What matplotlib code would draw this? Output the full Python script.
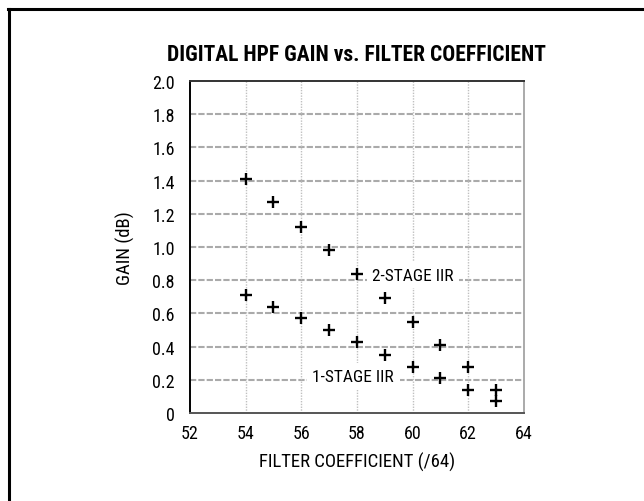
import matplotlib.pyplot as plt

coef = [54, 55, 56, 57, 58, 59, 60, 61, 62, 63]
gain_2stage = [1.41, 1.27, 1.12, 0.98, 0.84, 0.69, 0.55, 0.41, 0.28, 0.14]
gain_1stage = [0.71, 0.64, 0.57, 0.50, 0.43, 0.35, 0.28, 0.21, 0.14, 0.07]

xticks = [52, 54, 56, 58, 60, 62, 64]
yticks = [0, 0.2, 0.4, 0.6, 0.8, 1.0, 1.2, 1.4, 1.6, 1.8, 2.0]
ylabels = ["0", "0.2", "0.4", "0.6", "0.8", "1.0", "1.2", "1.4", "1.6", "1.8", "2.0"]

plt.rcParams['font.family'] = ['Roboto Condensed', 'Roboto', 'DejaVu Sans']

fig = plt.figure(figsize=(6.44, 5.02), dpi=100)
ax = fig.add_axes([0.295, 0.1753, 0.5186, 0.6614])

# outer frame (only top and left edges visible)
fig.add_artist(plt.Line2D([0.013, 1.0], [0.980, 0.980], color='black', lw=2.2,
                          transform=fig.transFigure))
fig.add_artist(plt.Line2D([0.014, 0.014], [0.0, 0.980], color='black', lw=2.2,
                          transform=fig.transFigure))

ax.set_xlim(52, 64)
ax.set_ylim(0, 2.0)
ax.set_xticks(xticks)
ax.set_yticks(yticks)
ax.set_yticklabels(ylabels)
ax.tick_params(length=0, labelsize=13)
ax.tick_params(axis='y', pad=11)
ax.tick_params(axis='x', pad=8)

for y in yticks[1:-1]:
    ax.axhline(y, color='#aaaaaa', lw=1.5, ls=(0, (3, 1)), zorder=0)
for x in xticks[1:-1]:
    ax.axvline(x, color='#c0c0c0', lw=1.0, ls=(0, (1, 1)), zorder=0)

ax.spines['left'].set_color('black')
ax.spines['top'].set_color('#333333')
ax.spines['right'].set_color('#aaaaaa')
ax.spines['bottom'].set_color('#555555')
for s in ax.spines.values():
    s.set_linewidth(1.4)

ax.plot(coef, gain_2stage, '+', color='black', ms=9, mew=1.7, zorder=3)
ax.plot(coef, gain_1stage, '+', color='black', ms=9, mew=1.7, zorder=3)

ax.text(58.55, 0.83, "2-STAGE IIR", fontsize=12.5, va='center', ha='left',
        bbox=dict(facecolor='white', edgecolor='none', pad=4), zorder=2)
ax.text(56.4, 0.22, "1-STAGE IIR", fontsize=12.5, va='center', ha='left',
        bbox=dict(facecolor='white', edgecolor='none', pad=4), zorder=2)

ax.set_xlabel("FILTER COEFFICIENT (/64)", fontsize=13.5, labelpad=7)
ax.set_ylabel("GAIN (dB)", fontsize=13.5, labelpad=12)

fig.text(0.554, 0.890, "DIGITAL HPF GAIN vs. FILTER COEFFICIENT", fontsize=15.5,
         fontweight='heavy', ha='center', va='center')

fig.savefig("out.png", dpi=100)
